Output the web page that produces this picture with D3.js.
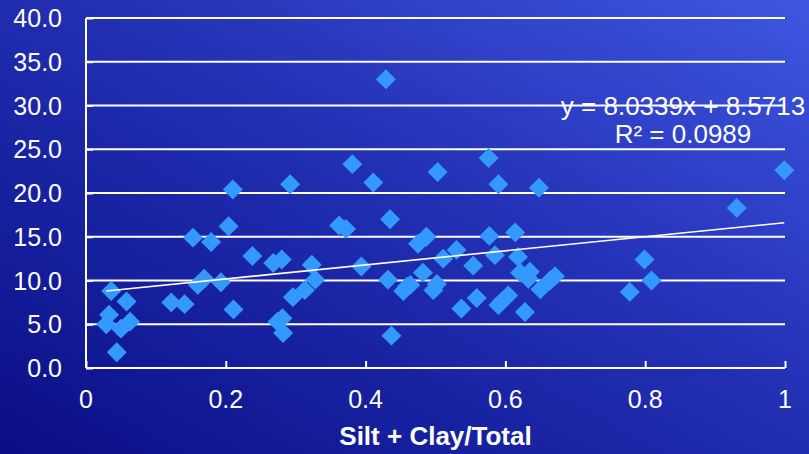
<!DOCTYPE html>
<html>
<head>
<meta charset="utf-8">
<script src="https://cdn.jsdelivr.net/npm/d3@7"></script>
<style>
  body { margin: 0; overflow: hidden; }
  text { font-family: "Liberation Sans", Arial, sans-serif; fill: #fff; }
</style>
</head>
<body>
<svg id="chart" width="809" height="454"></svg>
<script>
// silt + clay / total (x) vs measured value (y)
var xValues = [0.036, 0.058, 0.033, 0.029, 0.050, 0.063, 0.044, 0.122, 0.141, 0.153,
  0.179, 0.160, 0.169, 0.193, 0.204, 0.210, 0.211, 0.238, 0.292, 0.381,
  0.411, 0.362, 0.372, 0.435, 0.268, 0.280, 0.323, 0.328, 0.313, 0.296,
  0.281, 0.282, 0.394, 0.432, 0.437, 0.459, 0.454, 0.464, 0.475, 0.487,
  0.482, 0.497, 0.502, 0.503, 0.429, 0.576, 0.590, 0.648, 0.577, 0.614,
  0.530, 0.511, 0.585, 0.618, 0.554, 0.621, 0.635, 0.633, 0.650, 0.664,
  0.671, 0.537, 0.559, 0.590, 0.604, 0.628, 0.595, 0.999, 0.931, 0.799,
  0.809, 0.778, 0.274];
var yValues = [8.8, 7.6, 6.1, 5.0, 4.5, 5.3, 1.8, 7.5, 7.3, 14.9,
  14.4, 9.5, 10.2, 9.8, 16.2, 20.4, 6.7, 12.8, 21.0, 23.3,
  21.2, 16.3, 15.9, 17.0, 12.0, 12.4, 11.8, 10.1, 8.9, 8.1,
  5.7, 4.0, 11.6, 10.1, 3.7, 9.3, 8.8, 9.5, 14.2, 15.0,
  10.9, 8.9, 9.6, 22.4, 33.0, 24.0, 21.0, 20.6, 15.1, 15.5,
  13.5, 12.5, 12.9, 12.7, 11.7, 10.9, 11.0, 10.2, 9.0, 10.0,
  10.5, 6.8, 8.0, 7.2, 8.3, 6.4, 7.6, 22.6, 18.3, 12.4,
  10.0, 8.7, 5.3];
var xTicks = [0, 0.2, 0.4, 0.6, 0.8, 1];
var yTicks = [0, 5, 10, 15, 20, 25, 30, 35, 40];
var slope = 8.0339, intercept = 8.5713;
var equationLines = ["y = 8.0339x + 8.5713", "R\u00b2 = 0.0989"];

var svg = d3.select("#chart");
var width = 809, height = 454;
var margin = {left: 86, right: 24, top: 18, bottom: 86};

// background gradient
var defs = svg.append("defs");
var grad = defs.append("linearGradient")
  .attr("id", "bg")
  .attr("x1", "0%").attr("y1", "100%")
  .attr("x2", "100%").attr("y2", "0%");
grad.append("stop").attr("offset", "0%").attr("stop-color", "#0a0e85");
grad.append("stop").attr("offset", "55%").attr("stop-color", "#2230b4");
grad.append("stop").attr("offset", "100%").attr("stop-color", "#3e56e0");
svg.append("rect").attr("width", width).attr("height", height).attr("fill", "url(#bg)");

var x = d3.scaleLinear().domain([0, 1]).range([margin.left, width - margin.right]);
var y = d3.scaleLinear().domain([0, 40]).range([height - margin.bottom, margin.top]);

// gridlines
svg.append("g")
  .selectAll("line")
  .data(yTicks.slice(1))
  .enter()
  .append("line")
  .attr("x1", x(0)).attr("x2", x(1))
  .attr("y1", function(d) { return y(d); })
  .attr("y2", function(d) { return y(d); })
  .attr("stroke", "#fff")
  .attr("stroke-width", 2);

// x axis
var xAxis = svg.append("g")
  .attr("transform", "translate(0," + y(0) + ")")
  .call(d3.axisTop(x).tickValues(xTicks).tickSize(7).tickFormat(""));
xAxis.selectAll("path, line").attr("stroke", "#fff").attr("stroke-width", 2);
xAxis.select(".domain").attr("d", "M" + x(0) + ",0H" + x(1));

svg.append("g")
  .selectAll("text")
  .data(xTicks)
  .enter()
  .append("text")
  .attr("x", function(d) { return x(d); })
  .attr("y", 408)
  .attr("text-anchor", "middle")
  .style("font-size", "25px")
  .text(function(d) { return d3.format("")(d); });

// y axis
var yAxis = svg.append("g")
  .attr("transform", "translate(" + x(0) + ",0)")
  .call(d3.axisRight(y).tickValues(yTicks).tickSize(7).tickFormat(""));
yAxis.selectAll("path, line").attr("stroke", "#fff").attr("stroke-width", 2);
yAxis.select(".domain").attr("d", "M0," + y(0) + "V" + y(40));

svg.append("g")
  .selectAll("text")
  .data(yTicks)
  .enter()
  .append("text")
  .attr("x", 62)
  .attr("y", function(d) { return y(d) + 9; })
  .attr("text-anchor", "end")
  .style("font-size", "25px")
  .text(function(d) { return d.toFixed(1); });

// axis title
svg.append("text")
  .attr("x", (x(0) + x(1)) / 2)
  .attr("y", 445)
  .attr("text-anchor", "middle")
  .style("font-size", "26px")
  .style("font-weight", "bold")
  .text("Silt + Clay/Total");

// points
var points = xValues.map(function(d, i) { return [d, yValues[i]]; });
var diamond = d3.symbol().type(d3.symbolSquare).size(200);
svg.append("g")
  .selectAll("path")
  .data(points)
  .enter()
  .append("path")
  .attr("d", diamond)
  .attr("transform", function(d) {
    return "translate(" + x(d[0]) + "," + y(d[1]) + ") rotate(45)";
  })
  .attr("fill", "#3399ff");

// trend line over the data range
var ext = d3.extent(xValues);
svg.append("line")
  .attr("x1", x(ext[0])).attr("y1", y(slope * ext[0] + intercept))
  .attr("x2", x(ext[1])).attr("y2", y(slope * ext[1] + intercept))
  .attr("stroke", "#fff")
  .attr("stroke-width", 1.6);

// equation label
svg.append("g")
  .selectAll("text")
  .data(equationLines)
  .enter()
  .append("text")
  .attr("x", 683)
  .attr("y", function(d, i) { return 115 + i * 28; })
  .attr("text-anchor", "middle")
  .style("font-size", "26px")
  .text(function(d) { return d; });
</script>
</body>
</html>
